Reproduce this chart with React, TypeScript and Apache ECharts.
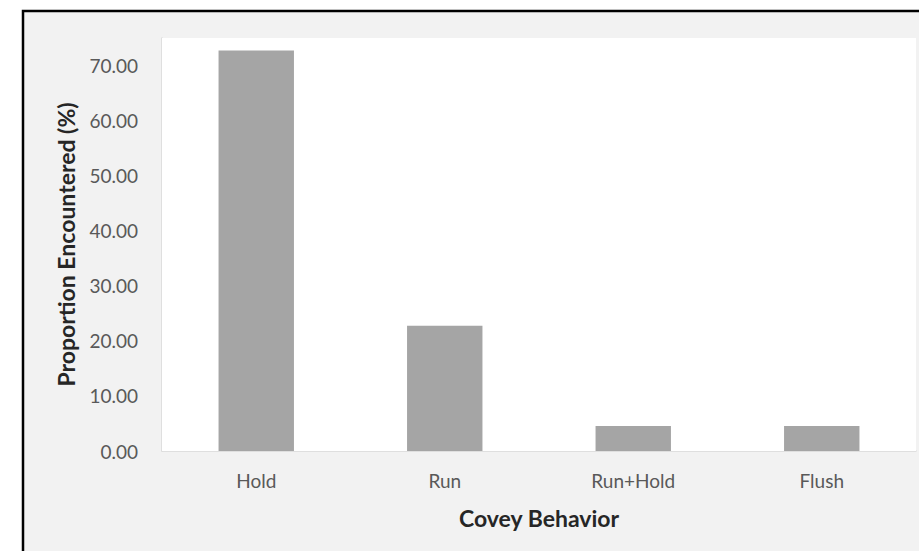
import React, { useEffect, useRef } from "react";
import * as echarts from "echarts";

const categories = ["Hold", "Run", "Run+Hold", "Flush"];
const proportions = [72.73, 22.73, 4.55, 4.55];
const xTitle = "Covey Behavior";
const yTitle = "Proportion Encountered (%)";

export default function App() {
  const ref = useRef<HTMLDivElement>(null);
  useEffect(() => {
    if (!ref.current) return;
    const chart = echarts.init(ref.current, undefined, { renderer: "svg" });
    const font = "Lato, 'Open Sans', sans-serif";
    chart.setOption({
      animation: false,
      backgroundColor: "#ffffff",
      graphic: [
        {
          type: "rect",
          z: -10,
          silent: true,
          shape: { x: 23, y: 11, width: 960, height: 600 },
          style: { fill: "#f2f2f2", stroke: "#000000", lineWidth: 2.5 },
        },
      ],
      grid: {
        left: 162,
        top: 38,
        right: 3,
        bottom: 100,
        show: true,
        backgroundColor: "#ffffff",
        borderWidth: 0,
        z: 1,
      },
      xAxis: {
        type: "category",
        data: categories,
        name: xTitle,
        nameLocation: "middle",
        nameGap: 55,
        nameTextStyle: { fontFamily: font, fontWeight: "bold", fontSize: 23, color: "#262626" },
        axisLine: { show: true, lineStyle: { color: "#d9d9d9", width: 1.5 } },
        axisTick: { show: false },
        axisLabel: { margin: 20, fontFamily: font, fontSize: 19, color: "#595959" },
      },
      yAxis: {
        type: "value",
        min: 0,
        max: 75,
        interval: 10,
        name: yTitle,
        nameLocation: "middle",
        nameGap: 85,
        nameTextStyle: { fontFamily: font, fontWeight: "bold", fontSize: 23, color: "#262626" },
        axisLine: { show: true, lineStyle: { color: "#d9d9d9", width: 1.5 } },
        axisTick: { show: false },
        splitLine: { show: false },
        axisLabel: {
          showMaxLabel: false,
          margin: 24,
          fontFamily: font,
          fontSize: 19,
          color: "#595959",
          formatter: (v: number) => v.toFixed(2),
        },
      },
      series: [
        {
          type: "bar",
          data: proportions,
          barWidth: "40%",
          itemStyle: { color: "#a5a5a5" },
        },
      ],
    });
    return () => chart.dispose();
  }, []);
  return (
    <div
      ref={ref}
      style={{ position: "fixed", left: 0, top: 0, width: 919, height: 551 }}
    />
  );
}
